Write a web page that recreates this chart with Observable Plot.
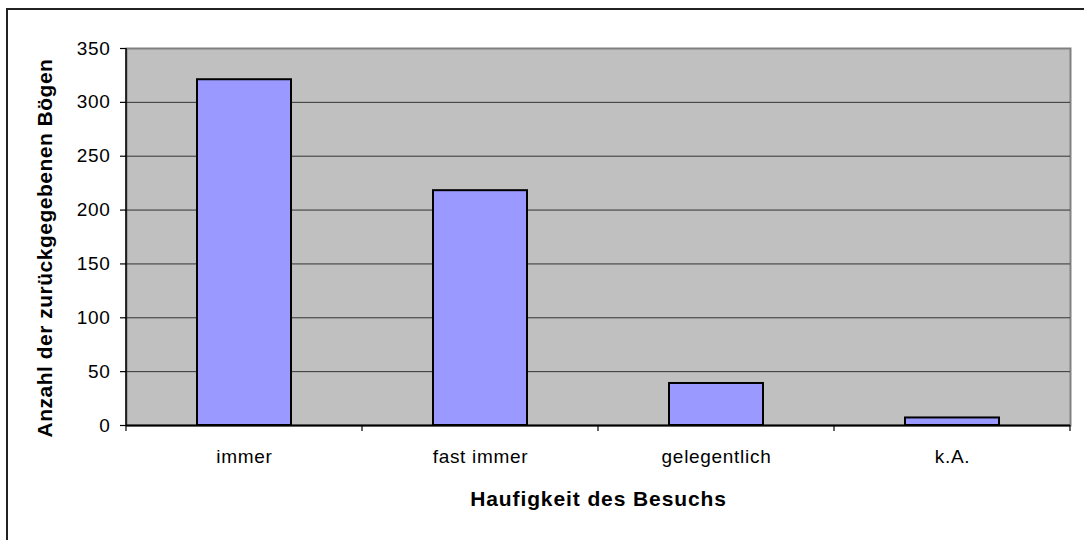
<!DOCTYPE html>
<html>
<head>
<meta charset="utf-8">
<script src="https://cdn.jsdelivr.net/npm/d3@7"></script>
<script src="https://cdn.jsdelivr.net/npm/@observablehq/plot@0.6"></script>
<style>
  html, body { margin: 0; padding: 0; background: #fff; }
  #wrap { position: relative; width: 1084px; height: 540px; overflow: hidden; }
  #border { position: absolute; left: 6px; top: 8px; width: 1100px; height: 560px; border: 2px solid #222; box-sizing: border-box; pointer-events: none; }
  svg { font-family: "Liberation Sans", Arial, sans-serif; }
  g[aria-label="y-axis tick label"] text, g[aria-label="x-axis tick label"] text { letter-spacing: 0.7px; }
  g[aria-label="y-axis label"] text { font-weight: bold; font-size: 21px; letter-spacing: 0.5px; }
  g[aria-label="x-axis label"] text { font-weight: bold; font-size: 21px; letter-spacing: 0.9px; }
</style>
</head>
<body>
<div id="wrap"><div id="border"></div></div>
<script>
const categories = ["immer", "fast immer", "gelegentlich", "k.A."];
const counts = [321, 218, 39, 7];
const yTicks = [0, 50, 100, 150, 200, 250, 300, 350];
const xTitle = "Haufigkeit des Besuchs";
const yTitle = "Anzahl der zurückgegebenen Bögen";

const data = categories.map((c, i) => ({cat: c, n: counts[i]}));

const plot = Plot.plot({
  width: 1084,
  height: 540,
  marginLeft: 126,
  marginRight: 14,
  marginTop: 48,
  marginBottom: 115,
  style: {fontSize: "19px", fontFamily: "Liberation Sans, Arial, sans-serif", background: "transparent", overflow: "visible"},
  x: {domain: categories, paddingInner: 0.6, paddingOuter: 0.3, label: null},
  y: {domain: [0, 350], ticks: yTicks, label: null},
  marks: [
    Plot.frame({fill: "#c0c0c0", stroke: "#808080", strokeWidth: 2}),
    Plot.gridY(yTicks.filter(t => t > 0 && t < 350), {stroke: "#333", strokeOpacity: 1, strokeWidth: 1}),
    Plot.barY(data, {x: "cat", y: "n", fill: "#9999ff", stroke: "#000", strokeWidth: 2}),
    Plot.axisY({ticks: yTicks, tickSize: 6, tickPadding: 10, stroke: "#000", strokeWidth: 1.2, fill: "#000", tickFormat: d => d,
      label: yTitle, labelAnchor: "center", labelArrow: "none", labelOffset: 89}),
    Plot.axisX({tickSize: 0, tickPadding: 24, fill: "#000", label: xTitle, labelAnchor: "center", labelArrow: "none", labelOffset: 80}),
    Plot.ruleY([0], {stroke: "#000", strokeWidth: 2})
  ]
});

document.getElementById("wrap").prepend(plot);

const svg = d3.select(plot);
// nudge the rotated y title slightly downward, as in the reference
svg.select('g[aria-label="y-axis label"] text').attr("dx", -11);

// left axis line and boundary ticks on the x axis, derived from the library's scales
const xs = plot.scale("x");
const ys = plot.scale("y");
const y0 = ys.apply(0);
const yTop = ys.apply(350);
const gap = (xs.step - xs.bandwidth) / 2;
const bounds = categories.map(c => xs.apply(c) - gap);
bounds.push(xs.apply(categories[categories.length - 1]) + xs.bandwidth + gap);
svg.append("line").attr("aria-label", "y-axis line")
  .attr("x1", bounds[0]).attr("x2", bounds[0])
  .attr("y1", yTop).attr("y2", y0 + 1)
  .attr("stroke", "#000").attr("stroke-width", 1.5);
svg.append("g").attr("aria-label", "x-boundary-ticks")
  .selectAll("line").data(bounds).join("line")
  .attr("x1", d => d).attr("x2", d => d)
  .attr("y1", y0).attr("y2", y0 + 6)
  .attr("stroke", "#000").attr("stroke-width", 1.2);
</script>
</body>
</html>
